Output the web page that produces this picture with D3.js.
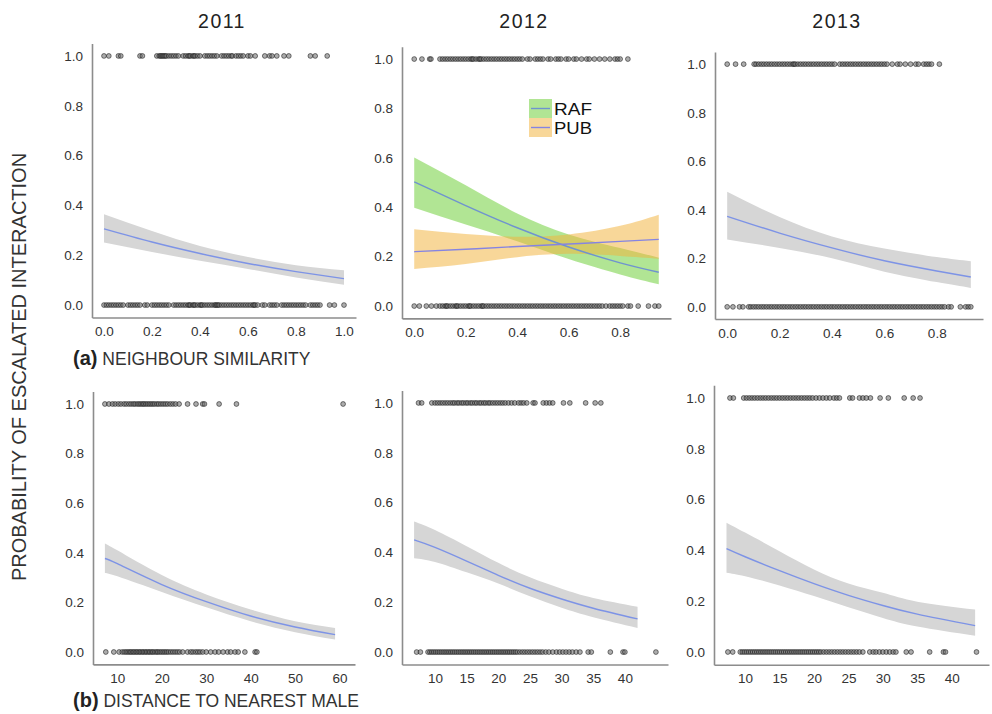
<!DOCTYPE html>
<html>
<head>
<meta charset="utf-8">
<script src="https://cdn.jsdelivr.net/npm/d3@7/dist/d3.min.js"></script>
<style>
  html, body { margin: 0; padding: 0; background: #fff; }
  svg { display: block; font-family: "Liberation Sans", Arial, sans-serif; }
</style>
</head>
<body>
<svg id="chart" width="992" height="714"></svg>
<script>
// ---- Data -------------------------------------------------------------
const years = ["2011", "2012", "2013"];
const yTicks = [0, 0.2, 0.4, 0.6, 0.8, 1.0];
const simTicks2011 = [0, 0.2, 0.4, 0.6, 0.8, 1.0];
const simTicks2012 = [0, 0.2, 0.4, 0.6, 0.8];
const simTicks2013 = [0, 0.2, 0.4, 0.6, 0.8];
const distTicks2011 = [10, 20, 30, 40, 50, 60];
const distTicks2012 = [10, 15, 20, 25, 30, 35, 40];
const distTicks2013 = [10, 15, 20, 25, 30, 35, 40];

// Observed interactions: escalated (1) and not escalated (0)
const sim2011Esc = [0.00, 0.02, 0.06, 0.07, 0.15, 0.16, 0.22, 0.23, 0.235, 0.24, 0.245, 0.25, 0.255, 0.26, 0.27, 0.28, 0.29, 0.30, 0.31, 0.33, 0.34, 0.35, 0.355, 0.36, 0.37, 0.375, 0.38, 0.39, 0.40, 0.42, 0.43, 0.44, 0.45, 0.46, 0.47, 0.49, 0.50, 0.51, 0.52, 0.53, 0.535, 0.55, 0.56, 0.57, 0.58, 0.60, 0.61, 0.63, 0.67, 0.69, 0.70, 0.72, 0.75, 0.77, 0.86, 0.88, 0.93];
const sim2011None = [0.00, 0.01, 0.02, 0.03, 0.04, 0.05, 0.06, 0.07, 0.08, 0.10, 0.11, 0.12, 0.13, 0.14, 0.15, 0.17, 0.18, 0.20, 0.21, 0.22, 0.23, 0.24, 0.25, 0.26, 0.27, 0.29, 0.30, 0.31, 0.32, 0.33, 0.34, 0.35, 0.355, 0.36, 0.37, 0.375, 0.38, 0.39, 0.40, 0.405, 0.41, 0.42, 0.43, 0.44, 0.45, 0.46, 0.465, 0.47, 0.475, 0.48, 0.49, 0.50, 0.51, 0.52, 0.53, 0.54, 0.55, 0.56, 0.57, 0.58, 0.59, 0.60, 0.61, 0.62, 0.625, 0.63, 0.64, 0.66, 0.67, 0.69, 0.70, 0.71, 0.72, 0.74, 0.75, 0.76, 0.77, 0.78, 0.79, 0.80, 0.81, 0.82, 0.83, 0.84, 0.86, 0.87, 0.88, 0.89, 0.90, 0.94, 0.96, 1.00];

const sim2012Esc = [0.00, 0.03, 0.06, 0.065, 0.10, 0.11, 0.12, 0.13, 0.14, 0.15, 0.16, 0.17, 0.18, 0.19, 0.20, 0.21, 0.22, 0.225, 0.23, 0.24, 0.25, 0.255, 0.26, 0.27, 0.28, 0.29, 0.30, 0.31, 0.32, 0.33, 0.34, 0.35, 0.36, 0.37, 0.38, 0.39, 0.40, 0.41, 0.42, 0.44, 0.45, 0.47, 0.48, 0.49, 0.50, 0.52, 0.53, 0.55, 0.56, 0.57, 0.59, 0.60, 0.62, 0.63, 0.65, 0.67, 0.68, 0.70, 0.72, 0.74, 0.76, 0.78, 0.79, 0.80, 0.83];
const sim2012None = [0.00, 0.02, 0.047, 0.067, 0.086, 0.10, 0.11, 0.12, 0.125, 0.13, 0.14, 0.15, 0.16, 0.165, 0.17, 0.18, 0.19, 0.20, 0.21, 0.215, 0.22, 0.23, 0.24, 0.25, 0.26, 0.265, 0.27, 0.28, 0.29, 0.30, 0.31, 0.32, 0.33, 0.34, 0.35, 0.36, 0.37, 0.38, 0.39, 0.40, 0.41, 0.42, 0.43, 0.44, 0.45, 0.46, 0.47, 0.48, 0.49, 0.50, 0.51, 0.52, 0.53, 0.54, 0.55, 0.56, 0.57, 0.58, 0.59, 0.60, 0.61, 0.62, 0.63, 0.64, 0.65, 0.66, 0.67, 0.68, 0.69, 0.70, 0.71, 0.72, 0.73, 0.745, 0.76, 0.77, 0.78, 0.79, 0.80, 0.81, 0.83, 0.84, 0.87, 0.91, 0.935, 0.95];

const sim2013Esc = [0.00, 0.032, 0.063, 0.103, 0.11, 0.12, 0.13, 0.14, 0.15, 0.16, 0.17, 0.18, 0.19, 0.20, 0.21, 0.22, 0.23, 0.24, 0.25, 0.255, 0.26, 0.27, 0.28, 0.29, 0.30, 0.31, 0.32, 0.33, 0.34, 0.35, 0.36, 0.37, 0.38, 0.39, 0.40, 0.41, 0.43, 0.44, 0.45, 0.46, 0.47, 0.48, 0.49, 0.50, 0.51, 0.52, 0.53, 0.54, 0.55, 0.56, 0.57, 0.58, 0.59, 0.60, 0.61, 0.63, 0.65, 0.66, 0.68, 0.70, 0.72, 0.73, 0.75, 0.76, 0.77, 0.78, 0.81];
const sim2013None = [0.00, 0.022, 0.047, 0.06, 0.082, 0.09, 0.10, 0.11, 0.12, 0.13, 0.14, 0.15, 0.16, 0.17, 0.18, 0.19, 0.20, 0.21, 0.22, 0.23, 0.24, 0.25, 0.26, 0.27, 0.28, 0.29, 0.30, 0.31, 0.32, 0.33, 0.34, 0.35, 0.36, 0.37, 0.38, 0.39, 0.40, 0.41, 0.42, 0.43, 0.44, 0.45, 0.46, 0.47, 0.48, 0.49, 0.50, 0.51, 0.52, 0.53, 0.54, 0.55, 0.56, 0.57, 0.58, 0.59, 0.60, 0.61, 0.62, 0.63, 0.64, 0.65, 0.66, 0.67, 0.68, 0.69, 0.70, 0.71, 0.72, 0.73, 0.74, 0.75, 0.76, 0.77, 0.78, 0.79, 0.80, 0.81, 0.82, 0.83, 0.845, 0.855, 0.89, 0.91, 0.92, 0.93];

const dist2011Esc = [7.2, 8.1, 8.9, 9.5, 10.2, 10.8, 11.5, 12.0, 12.6, 13.1, 13.6, 14.0, 14.5, 14.9, 15.3, 15.7, 16.0, 16.4, 16.8, 17.2, 17.6, 18.0, 18.4, 18.9, 19.3, 19.8, 20.3, 20.8, 21.3, 21.9, 22.5, 23.1, 23.9, 25.8, 27.7, 29.2, 29.6, 32.9, 36.8, 60.8];
const dist2011None = [7.4, 9.2, 10.4, 11.1, 11.6, 12.0, 12.4, 12.8, 13.1, 13.5, 13.8, 14.2, 14.5, 14.9, 15.2, 15.6, 15.9, 16.3, 16.6, 17.0, 17.3, 17.7, 18.0, 18.4, 18.8, 19.1, 19.5, 19.9, 20.3, 20.7, 21.1, 21.5, 22.0, 22.5, 23.0, 23.5, 24.0, 24.7, 25.8, 26.5, 27.0, 27.6, 28.1, 28.6, 29.2, 30.0, 31.0, 32.0, 32.8, 33.8, 34.8, 35.5, 36.5, 37.2, 38.7, 41.0, 41.4];

const dist2012Esc = [7.4, 7.9, 9.5, 10.0, 10.4, 10.8, 11.2, 11.6, 12.0, 12.4, 12.8, 13.1, 13.5, 13.8, 14.2, 14.5, 14.9, 15.2, 15.6, 15.9, 16.3, 16.6, 17.0, 17.3, 17.7, 18.0, 18.4, 18.7, 19.1, 19.5, 19.9, 20.3, 20.7, 21.1, 21.6, 22.1, 22.6, 23.2, 23.6, 24.0, 24.5, 25.5, 25.8, 27.1, 27.6, 28.1, 28.6, 30.3, 31.3, 33.8, 35.3, 36.2];
const dist2012None = [7.1, 7.7, 8.9, 9.2, 9.5, 9.8, 10.1, 10.4, 10.7, 11.0, 11.3, 11.6, 11.9, 12.2, 12.5, 12.8, 13.1, 13.4, 13.7, 14.0, 14.3, 14.6, 14.9, 15.2, 15.5, 15.8, 16.1, 16.4, 16.7, 17.0, 17.3, 17.6, 17.9, 18.2, 18.5, 18.8, 19.1, 19.4, 19.7, 20.0, 20.3, 20.6, 20.9, 21.2, 21.5, 21.8, 22.1, 22.4, 22.7, 23.0, 23.4, 23.8, 24.2, 24.6, 25.0, 25.4, 25.8, 26.2, 26.6, 27.0, 27.5, 28.0, 28.6, 29.2, 29.7, 30.2, 30.7, 31.2, 31.7, 32.3, 32.9, 34.2, 34.7, 37.7, 39.7, 40.0, 44.9];

const dist2013Esc = [7.8, 8.3, 9.8, 10.2, 10.6, 11.0, 11.4, 11.8, 12.2, 12.6, 13.0, 13.4, 13.8, 14.2, 14.6, 15.0, 15.4, 15.8, 16.2, 16.6, 17.0, 17.4, 17.8, 18.2, 18.6, 19.0, 19.4, 19.8, 20.3, 20.8, 21.3, 21.8, 22.3, 22.9, 23.3, 23.7, 25.2, 25.6, 26.6, 27.1, 27.6, 28.2, 29.6, 30.8, 33.1, 34.4, 35.4];
const dist2013None = [7.5, 8.2, 9.3, 9.6, 9.9, 10.2, 10.5, 10.8, 11.1, 11.4, 11.7, 12.0, 12.3, 12.6, 12.9, 13.2, 13.5, 13.8, 14.1, 14.4, 14.7, 15.0, 15.3, 15.6, 15.9, 16.2, 16.5, 16.8, 17.1, 17.4, 17.7, 18.0, 18.3, 18.6, 18.9, 19.2, 19.5, 19.8, 20.1, 20.4, 20.7, 21.0, 21.4, 21.8, 22.2, 22.6, 23.0, 23.4, 23.8, 24.2, 24.6, 25.0, 25.4, 25.8, 26.2, 26.6, 27.1, 28.1, 28.6, 29.0, 29.5, 30.0, 30.5, 31.0, 31.5, 31.9, 33.4, 34.1, 36.8, 38.8, 39.1, 43.6];

// Fitted probabilities with 95% confidence bands
const sim2011X = [0, 0.2, 0.4, 0.6, 0.8, 1.0];
const sim2011Fit = [0.306, 0.253, 0.207, 0.167, 0.134, 0.106];
const sim2011Lower = [0.251, 0.213, 0.178, 0.145, 0.111, 0.081];
const sim2011Upper = [0.365, 0.297, 0.237, 0.193, 0.160, 0.140];

const sim2012X = [0, 0.2, 0.4, 0.6, 0.8, 0.95];
const sim2012RafFit = [0.503, 0.407, 0.317, 0.239, 0.175, 0.137];
const sim2012RafLower = [0.398, 0.330, 0.262, 0.190, 0.128, 0.088];
const sim2012RafUpper = [0.601, 0.489, 0.375, 0.290, 0.235, 0.196];
const sim2012PubFit = [0.220, 0.230, 0.241, 0.251, 0.262, 0.270];
const sim2012PubLower = [0.150, 0.170, 0.198, 0.212, 0.203, 0.192];
const sim2012PubUpper = [0.311, 0.292, 0.281, 0.290, 0.325, 0.370];

const sim2013X = [0, 0.2, 0.4, 0.6, 0.8, 0.93];
const sim2013Fit = [0.373, 0.304, 0.243, 0.190, 0.148, 0.123];
const sim2013Lower = [0.278, 0.243, 0.200, 0.145, 0.102, 0.078];
const sim2013Upper = [0.474, 0.370, 0.290, 0.240, 0.205, 0.188];

const dist2011X = [7.2, 10, 20, 30, 40, 50, 59];
const dist2011Fit = [0.377, 0.356, 0.272, 0.203, 0.145, 0.101, 0.070];
const dist2011Lower = [0.319, 0.305, 0.242, 0.180, 0.124, 0.080, 0.050];
const dist2011Upper = [0.438, 0.410, 0.310, 0.232, 0.171, 0.124, 0.097];

const dist2012X = [6.7, 10, 15, 20, 25, 30, 35, 42];
const dist2012Fit = [0.450, 0.420, 0.365, 0.308, 0.256, 0.213, 0.176, 0.133];
const dist2012Lower = [0.377, 0.362, 0.320, 0.275, 0.224, 0.178, 0.140, 0.097];
const dist2012Upper = [0.524, 0.490, 0.425, 0.358, 0.300, 0.254, 0.217, 0.182];

const dist2013X = [7.3, 10, 15, 20, 25, 30, 35, 43.4];
const dist2013Fit = [0.407, 0.375, 0.320, 0.269, 0.223, 0.183, 0.149, 0.104];
const dist2013Lower = [0.312, 0.298, 0.262, 0.220, 0.176, 0.134, 0.100, 0.064];
const dist2013Upper = [0.509, 0.470, 0.397, 0.325, 0.270, 0.233, 0.198, 0.167];

const groupNames = ["RAF", "PUB"];

// ---- Styles & layout --------------------------------------------------
const GREY_BAND = "#d6d6d6";
const FIT_LINE = "#7d93e6";
const RAF_BAND = "rgba(120,210,70,0.58)";
const PUB_BAND = "rgba(242,178,60,0.52)";
const RAF_LINE = "#6f93cf";
const PUB_LINE = "#8584e2";

const layout = [
  { left: 92,  right: 356, top: 43.5, bottom: 317.5 },
  { left: 402, right: 671, top: 46.7, bottom: 318.4 },
  { left: 715, right: 983, top: 52,   bottom: 319 },
  { left: 93,  right: 355, top: 391.6, bottom: 664.4 },
  { left: 402, right: 668, top: 390.5, bottom: 664.5 },
  { left: 714, right: 989, top: 385.3, bottom: 664.7 }
];

const band = (x, fit, lower, upper, fill, line) => ({
  pts: x.map((v, i) => ({ x: v, fit: fit[i], lo: lower[i], hi: upper[i] })),
  fill, line
});

const panels = [
  { esc: sim2011Esc, none: sim2011None, ticks: simTicks2011, fmt: ".1f",
    fits: [band(sim2011X, sim2011Fit, sim2011Lower, sim2011Upper, GREY_BAND, FIT_LINE)] },
  { esc: sim2012Esc, none: sim2012None, ticks: simTicks2012, fmt: ".1f",
    fits: [band(sim2012X, sim2012RafFit, sim2012RafLower, sim2012RafUpper, RAF_BAND, RAF_LINE),
           band(sim2012X, sim2012PubFit, sim2012PubLower, sim2012PubUpper, PUB_BAND, PUB_LINE)],
    legend: true },
  { esc: sim2013Esc, none: sim2013None, ticks: simTicks2013, fmt: ".1f",
    fits: [band(sim2013X, sim2013Fit, sim2013Lower, sim2013Upper, GREY_BAND, FIT_LINE)] },
  { esc: dist2011Esc, none: dist2011None, ticks: distTicks2011, fmt: "d",
    fits: [band(dist2011X, dist2011Fit, dist2011Lower, dist2011Upper, GREY_BAND, FIT_LINE)] },
  { esc: dist2012Esc, none: dist2012None, ticks: distTicks2012, fmt: "d",
    fits: [band(dist2012X, dist2012Fit, dist2012Lower, dist2012Upper, GREY_BAND, FIT_LINE)] },
  { esc: dist2013Esc, none: dist2013None, ticks: distTicks2013, fmt: "d",
    fits: [band(dist2013X, dist2013Fit, dist2013Lower, dist2013Upper, GREY_BAND, FIT_LINE)] }
];

// ---- Drawing ----------------------------------------------------------
const svg = d3.select("#chart");

panels.forEach((p, i) => {
  const box = layout[i];
  const allX = p.esc.concat(p.none, ...p.fits.map(f => f.pts.map(d => d.x)));
  const [xmin, xmax] = d3.extent(allX);
  const pad = (xmax - xmin) * 0.05;
  const x = d3.scaleLinear().domain([xmin - pad, xmax + pad]).range([box.left, box.right]);
  const y = d3.scaleLinear().domain([-0.05, 1.05]).range([box.bottom, box.top]);
  const g = svg.append("g");

  // confidence bands
  p.fits.forEach(f => {
    g.append("path")
      .datum(f.pts)
      .attr("fill", f.fill)
      .attr("d", d3.area().curve(d3.curveNatural)
        .x(d => x(d.x)).y0(d => y(d.lo)).y1(d => y(d.hi)));
  });
  // fitted lines
  p.fits.forEach(f => {
    g.append("path")
      .datum(f.pts)
      .attr("fill", "none")
      .attr("stroke", f.line)
      .attr("stroke-width", 1.4)
      .attr("d", d3.line().curve(d3.curveNatural).x(d => x(d.x)).y(d => y(d.fit)));
  });

  // observed outcomes
  const obs = p.esc.map(v => ({ x: v, y: 1 })).concat(p.none.map(v => ({ x: v, y: 0 })));
  g.append("g").selectAll("circle").data(obs).join("circle")
    .attr("cx", d => x(d.x)).attr("cy", d => y(d.y)).attr("r", 2.4)
    .attr("fill", "#6a6a6a").attr("fill-opacity", 0.55)
    .attr("stroke", "#1a1a1a").attr("stroke-opacity", 0.72).attr("stroke-width", 0.8);

  // axes
  const yAxis = g.append("g").attr("transform", `translate(${box.left},0)`)
    .call(d3.axisLeft(y).tickValues(yTicks).tickSize(0).tickPadding(9).tickFormat(d3.format(".1f")));
  const xAxis = g.append("g").attr("transform", `translate(0,${box.bottom})`)
    .call(d3.axisBottom(x).tickValues(p.ticks).tickSize(0).tickPadding(9).tickFormat(d3.format(p.fmt)));
  [xAxis, yAxis].forEach(a => {
    a.select(".domain").attr("stroke", "#8c8c8c").attr("stroke-width", 1.6);
    a.selectAll("text").attr("font-size", 13.5).attr("fill", "#333")
      .attr("font-family", "'Liberation Sans', Arial, sans-serif");
  });

  // legend for the two groups
  if (p.legend) {
    const lg = g.append("g").attr("transform", "translate(529,99)");
    groupNames.forEach((name, k) => {
      const f = p.fits[k];
      const row = lg.append("g").attr("transform", `translate(0,${k * 19})`);
      row.append("rect").attr("width", 23).attr("height", 19).attr("fill", f.fill);
      row.append("line").attr("x1", 2).attr("x2", 21).attr("y1", 9.5).attr("y2", 9.5)
        .attr("stroke", f.line).attr("stroke-width", 1.4);
      row.append("text").attr("x", 25).attr("y", 16).attr("font-size", 16.5)
        .attr("transform", "scale(1,1)")
        .attr("textLength", 38).attr("lengthAdjust", "spacingAndGlyphs")
        .attr("fill", "#111").text(name);
    });
  }
});

// column titles
const titleX = [222, 524, 837];
years.forEach((yr, i) => {
  svg.append("text").attr("x", titleX[i]).attr("y", 28).attr("text-anchor", "middle")
    .attr("font-size", 19.5).attr("letter-spacing", 1.5).attr("fill", "#222").text(yr);
});

// shared y label
svg.append("text")
  .attr("transform", "translate(26,367) rotate(-90)")
  .attr("text-anchor", "middle").attr("font-size", 20).attr("fill", "#333")
  .text("PROBABILITY OF ESCALATED INTERACTION");

// row labels
const rowLabels = [
  { tag: "(a)", text: " NEIGHBOUR SIMILARITY", y: 365 },
  { tag: "(b)", text: " DISTANCE TO NEAREST MALE", y: 707 }
];
rowLabels.forEach(r => {
  const t = svg.append("text").attr("x", 73).attr("y", r.y).attr("fill", "#222");
  t.append("tspan").attr("font-weight", "bold").attr("font-size", 20).text(r.tag);
  t.append("tspan").attr("font-size", 17.5).attr("fill", "#333").text(r.text);
});
</script>
</body>
</html>
